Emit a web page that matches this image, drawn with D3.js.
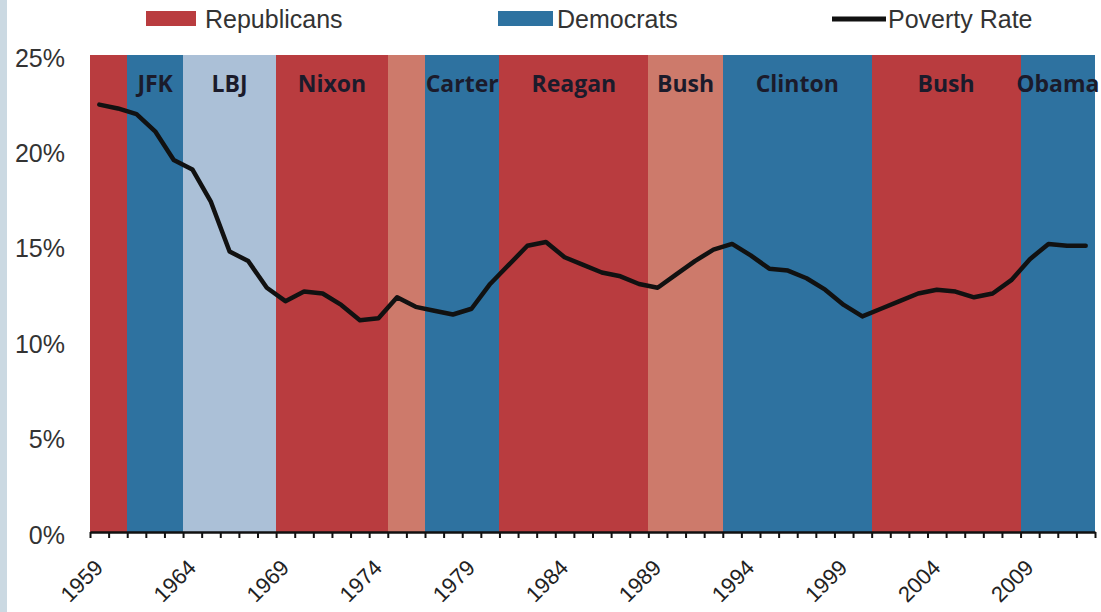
<!DOCTYPE html>
<html>
<head>
<meta charset="utf-8">
<script src="https://cdn.jsdelivr.net/npm/d3@7"></script>
<style>
  html, body { margin: 0; padding: 0; background: #ffffff; }
  svg { display: block; }
</style>
</head>
<body>
<svg id="chart" width="1101" height="612"></svg>
<script>
// ---------- DATA ----------
const years = [1959,1960,1961,1962,1963,1964,1965,1966,1967,1968,1969,1970,1971,1972,1973,1974,1975,1976,1977,1978,1979,1980,1981,1982,1983,1984,1985,1986,1987,1988,1989,1990,1991,1992,1993,1994,1995,1996,1997,1998,1999,2000,2001,2002,2003,2004,2005,2006,2007,2008,2009,2010,2011,2012];
const povertyRate = [22.4,22.2,21.9,21.0,19.5,19.0,17.3,14.7,14.2,12.8,12.1,12.6,12.5,11.9,11.1,11.2,12.3,11.8,11.6,11.4,11.7,13.0,14.0,15.0,15.2,14.4,14.0,13.6,13.4,13.0,12.8,13.5,14.2,14.8,15.1,14.5,13.8,13.7,13.3,12.7,11.9,11.3,11.7,12.1,12.5,12.7,12.6,12.3,12.5,13.2,14.3,15.1,15.0,15.0];
const presLabels = ["", "JFK", "LBJ", "Nixon", "", "Carter", "Reagan", "Bush", "Clinton", "Bush", "Obama"];
const presParty  = ["R", "D", "D", "R", "R", "D", "R", "R", "D", "R", "D"];
const presStart  = [1959, 1961, 1964, 1969, 1975, 1977, 1981, 1989, 1993, 2001, 2009];
const presEnd    = [1960, 1963, 1968, 1974, 1976, 1980, 1988, 1992, 2000, 2008, 2012];
const yTicks = [0, 5, 10, 15, 20, 25];
const xLabelYears = [1959, 1964, 1969, 1974, 1979, 1984, 1989, 1994, 1999, 2004, 2009];
const legendItems = ["Republicans", "Democrats", "Poverty Rate"];

// ---------- STYLE ----------
const bandColors = ["#b93c3f", "#2e72a0", "#abc0d7", "#b93c3f", "#cd7a6b", "#2e72a0", "#b93c3f", "#cd7a6b", "#2e72a0", "#b93c3f", "#2e72a0"];
const partyColor = { R: "#b93c3f", D: "#2e72a0" };

const svg = d3.select("#chart");
const W = 1101, H = 612;
const mLeft = 90, mRight = 1095, mTop = 55, mBottom = 532;

// left gray strip
svg.append("rect").attr("x", 0).attr("y", 0).attr("width", 7).attr("height", H).attr("fill", "#cbd9e2");

const x = d3.scaleBand().domain(years).range([mLeft, mRight]).padding(0);
const xEdge = d3.scaleLinear().domain([years[0], years[years.length - 1] + 1]).range([mLeft, mRight]);
const y = d3.scaleLinear().domain([0, 25]).range([mBottom, mTop]);

// president bands
const bands = presStart.map((s, i) => ({ s, e: presEnd[i], label: presLabels[i], party: presParty[i], i }));
svg.append("g").attr("shape-rendering", "crispEdges").selectAll("rect").data(bands).join("rect")
  .attr("x", d => Math.round(xEdge(d.s)))
  .attr("y", mTop)
  .attr("width", d => Math.round(xEdge(d.e + 1)) - Math.round(xEdge(d.s)))
  .attr("height", mBottom - mTop)
  .attr("fill", d => bandColors[d.i]);

// president labels
svg.append("g").selectAll("text").data(bands.filter(d => d.label)).join("text")
  .attr("x", d => (xEdge(d.s) + xEdge(d.e + 1)) / 2)
  .attr("y", 92)
  .attr("text-anchor", "middle")
  .attr("font-family", "'Open Sans', sans-serif")
  .attr("font-weight", 700)
  .attr("font-size", 23)
  .attr("fill", "#1b1b2b")
  .text(d => d.label);

// poverty line
const line = d3.line()
  .x((d, i) => x(years[i]) + x.bandwidth() / 2)
  .y(d => y(d));
svg.append("path").datum(povertyRate)
  .attr("d", line)
  .attr("fill", "none")
  .attr("stroke", "#111111")
  .attr("stroke-width", 4.5)
  .attr("stroke-linejoin", "round")
  .attr("stroke-linecap", "round");

// y axis
const yAxis = svg.append("g").attr("transform", `translate(65,3)`)
  .call(d3.axisLeft(y).tickValues(yTicks).tickSize(0).tickPadding(0).tickFormat(d => d + "%"));
yAxis.select(".domain").remove();
yAxis.selectAll("text")
  .attr("font-family", "'Liberation Sans', Arial, sans-serif")
  .attr("font-size", 25)
  .attr("fill", "#333333");

// x axis (ticks at year boundaries)
const xAxis = svg.append("g").attr("transform", `translate(0,${mBottom})`)
  .call(d3.axisBottom(xEdge).tickValues(d3.range(years[0], years[years.length - 1] + 2)).tickSize(6).tickSizeOuter(0).tickFormat(""));
xAxis.select(".domain").attr("stroke", "#111").attr("stroke-width", 2.5);
xAxis.selectAll(".tick line").attr("stroke", "#111").attr("stroke-width", 2);

// x labels
svg.append("g").selectAll("text").data(xLabelYears).join("text")
  .attr("transform", d => `translate(${x(d) + x.bandwidth() / 2 + 5},569) rotate(-45)`)
  .attr("text-anchor", "end")
  .attr("font-family", "'Liberation Sans', Arial, sans-serif")
  .attr("font-size", 22)
  .attr("fill", "#222222")
  .text(d => d);

// legend
const lg = svg.append("g");
const legX = [146, 498, 832];
lg.append("rect").attr("x", legX[0]).attr("y", 11).attr("width", 50).attr("height", 15).attr("fill", partyColor.R);
lg.append("rect").attr("x", legX[1]).attr("y", 11).attr("width", 55).attr("height", 15).attr("fill", partyColor.D);
lg.append("line").attr("x1", legX[2]).attr("x2", legX[2] + 54).attr("y1", 19).attr("y2", 19)
  .attr("stroke", "#111").attr("stroke-width", 5);
const legTextX = [205, 557, 888];
lg.selectAll("text").data(legendItems).join("text")
  .attr("x", (d, i) => legTextX[i])
  .attr("y", 28)
  .attr("font-family", "'Liberation Sans', Arial, sans-serif")
  .attr("font-size", 25)
  .attr("fill", "#333333")
  .text(d => d);
</script>
</body>
</html>
